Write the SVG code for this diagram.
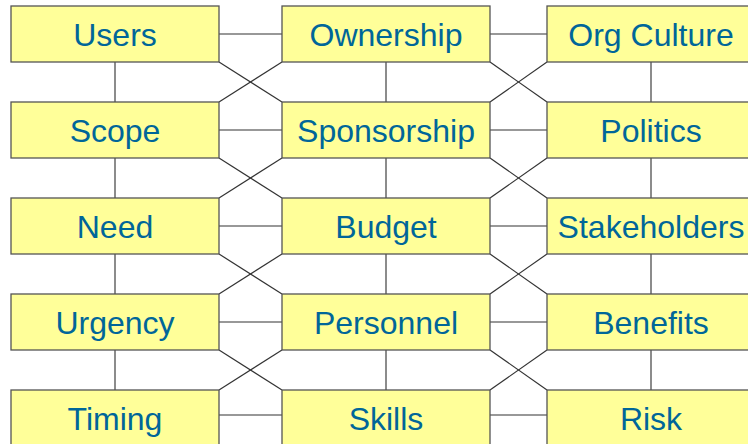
<svg xmlns="http://www.w3.org/2000/svg" width="748" height="444" viewBox="0 0 748 444">
<style>
.box{fill:#FFFF99;stroke:#555555;stroke-width:1.3}
.lbl{font-family:"Liberation Sans",Arial,sans-serif;font-size:32px;fill:#006699;text-anchor:middle}
.c line{stroke:#333333;stroke-width:1.2}
.c .v{stroke:#666666;stroke-width:1.5}
</style>
<rect width="748" height="444" fill="#ffffff"/>
<g class="c" id="connectors">
<line x1="219" y1="34" x2="282" y2="34"/><line x1="490" y1="34" x2="547" y2="34"/>
<line x1="219" y1="130" x2="282" y2="130"/><line x1="490" y1="130" x2="547" y2="130"/>
<line x1="219" y1="226" x2="282" y2="226"/><line x1="490" y1="226" x2="547" y2="226"/>
<line x1="219" y1="322" x2="282" y2="322"/><line x1="490" y1="322" x2="547" y2="322"/>
<line x1="219" y1="415" x2="282" y2="415"/><line x1="490" y1="415" x2="547" y2="415"/>
<line class="v" x1="115" y1="62" x2="115" y2="102"/><line class="v" x1="386" y1="62" x2="386" y2="102"/><line class="v" x1="651" y1="62" x2="651" y2="102"/>
<line class="v" x1="115" y1="158" x2="115" y2="198"/><line class="v" x1="386" y1="158" x2="386" y2="198"/><line class="v" x1="651" y1="158" x2="651" y2="198"/>
<line class="v" x1="115" y1="254" x2="115" y2="294"/><line class="v" x1="386" y1="254" x2="386" y2="294"/><line class="v" x1="651" y1="254" x2="651" y2="294"/>
<line class="v" x1="115" y1="350" x2="115" y2="390"/><line class="v" x1="386" y1="350" x2="386" y2="390"/><line class="v" x1="651" y1="350" x2="651" y2="390"/>
<line x1="219" y1="62" x2="282" y2="102"/><line x1="219" y1="102" x2="282" y2="62"/><line x1="490" y1="62" x2="547" y2="102"/><line x1="490" y1="102" x2="547" y2="62"/>
<line x1="219" y1="158" x2="282" y2="198"/><line x1="219" y1="198" x2="282" y2="158"/><line x1="490" y1="158" x2="547" y2="198"/><line x1="490" y1="198" x2="547" y2="158"/>
<line x1="219" y1="254" x2="282" y2="294"/><line x1="219" y1="294" x2="282" y2="254"/><line x1="490" y1="254" x2="547" y2="294"/><line x1="490" y1="294" x2="547" y2="254"/>
<line x1="219" y1="350" x2="282" y2="390"/><line x1="219" y1="390" x2="282" y2="350"/><line x1="490" y1="350" x2="547" y2="390"/><line x1="490" y1="390" x2="547" y2="350"/>
</g>
<g id="users"><rect class="box" x="11" y="6" width="208" height="56"/><text class="lbl" x="115" y="46">Users</text></g>
<g id="ownership"><rect class="box" x="282" y="6" width="208" height="56"/><text class="lbl" x="386" y="46">Ownership</text></g>
<g id="orgculture"><rect class="box" x="547" y="6" width="208" height="56"/><text class="lbl" x="651" y="46">Org Culture</text></g>
<g id="scope"><rect class="box" x="11" y="102" width="208" height="56"/><text class="lbl" x="115" y="142">Scope</text></g>
<g id="sponsorship"><rect class="box" x="282" y="102" width="208" height="56"/><text class="lbl" x="386" y="142">Sponsorship</text></g>
<g id="politics"><rect class="box" x="547" y="102" width="208" height="56"/><text class="lbl" x="651" y="142">Politics</text></g>
<g id="need"><rect class="box" x="11" y="198" width="208" height="56"/><text class="lbl" x="115" y="238">Need</text></g>
<g id="budget"><rect class="box" x="282" y="198" width="208" height="56"/><text class="lbl" x="386" y="238">Budget</text></g>
<g id="stakeholders"><rect class="box" x="547" y="198" width="208" height="56"/><text class="lbl" x="651" y="238">Stakeholders</text></g>
<g id="urgency"><rect class="box" x="11" y="294" width="208" height="56"/><text class="lbl" x="115" y="334">Urgency</text></g>
<g id="personnel"><rect class="box" x="282" y="294" width="208" height="56"/><text class="lbl" x="386" y="334">Personnel</text></g>
<g id="benefits"><rect class="box" x="547" y="294" width="208" height="56"/><text class="lbl" x="651" y="334">Benefits</text></g>
<g id="timing"><rect class="box" x="11" y="390" width="208" height="60"/><text class="lbl" x="115" y="430">Timing</text></g>
<g id="skills"><rect class="box" x="282" y="390" width="208" height="60"/><text class="lbl" x="386" y="430">Skills</text></g>
<g id="risk"><rect class="box" x="547" y="390" width="208" height="60"/><text class="lbl" x="651" y="430">Risk</text></g>
</svg>
